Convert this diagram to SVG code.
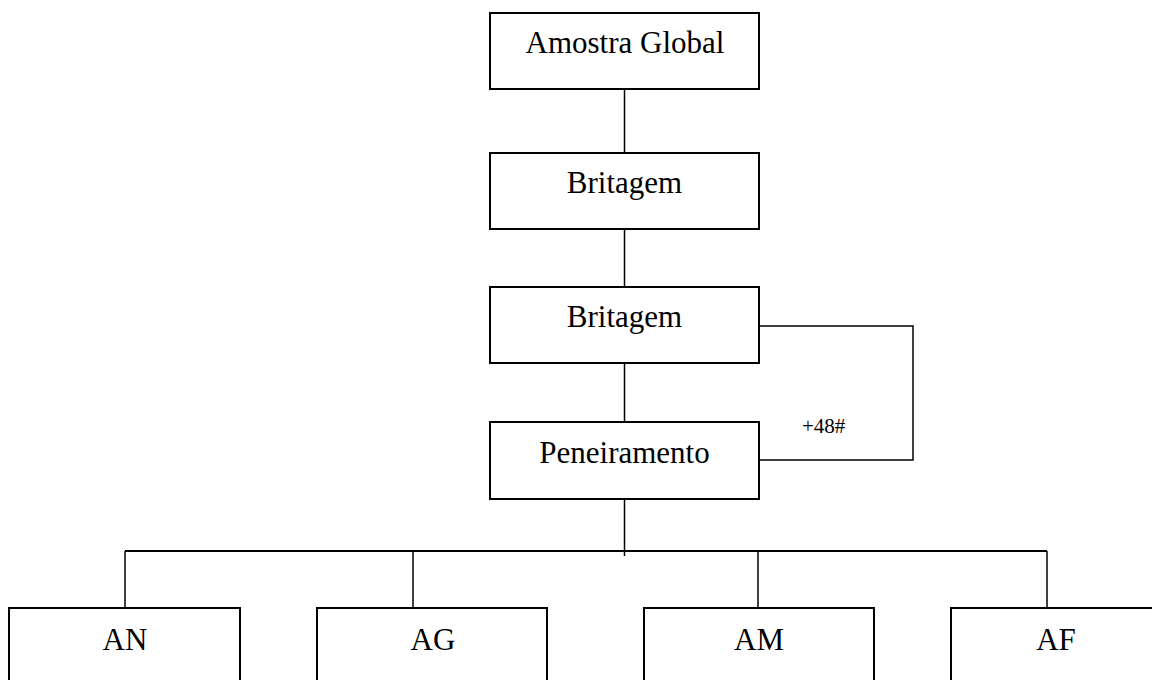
<svg xmlns="http://www.w3.org/2000/svg" width="1152" height="680" viewBox="0 0 1152 680">
  <style>
    .box { fill: #fff; stroke: #000; stroke-width: 2; }
    .lbl { font-family: "Liberation Serif", "Times New Roman", serif; font-size: 31px; fill: #000; text-anchor: middle; }
    .small { font-family: "Liberation Serif", "Times New Roman", serif; font-size: 21px; fill: #000; }
    .conn { fill: none; stroke: #000; stroke-width: 1.5; }
  </style>
  <rect width="1152" height="680" fill="#fff"/>
  <g id="connectors">
    <line class="conn" x1="624.5" y1="89" x2="624.5" y2="153"/>
    <line class="conn" x1="624.5" y1="229" x2="624.5" y2="287"/>
    <line class="conn" x1="624.5" y1="363" x2="624.5" y2="422"/>
    <polyline class="conn" points="759,326 913,326 913,460 759,460"/>
    <line class="conn" x1="624.5" y1="499" x2="624.5" y2="556"/>
    <line class="conn" x1="125" y1="551" x2="1047" y2="551" style="stroke-width:2"/>
    <line class="conn" x1="125" y1="551" x2="125" y2="608"/>
    <line class="conn" x1="413" y1="551" x2="413" y2="608"/>
    <line class="conn" x1="758" y1="551" x2="758" y2="608"/>
    <line class="conn" x1="1047" y1="551" x2="1047" y2="608"/>
    <text class="small" x="802" y="433">+48#</text>
  </g>
  <g id="amostra-global">
    <rect class="box" x="490" y="13" width="269" height="76"/>
    <text class="lbl" x="625" y="53">Amostra Global</text>
  </g>
  <g id="britagem-1">
    <rect class="box" x="490" y="153" width="269" height="76"/>
    <text class="lbl" x="624.5" y="193">Britagem</text>
  </g>
  <g id="britagem-2">
    <rect class="box" x="490" y="287" width="269" height="76"/>
    <text class="lbl" x="624.5" y="327">Britagem</text>
  </g>
  <g id="peneiramento">
    <rect class="box" x="490" y="422" width="269" height="77"/>
    <text class="lbl" x="624.5" y="463">Peneiramento</text>
  </g>
  <g id="an">
    <rect class="box" x="9" y="608" width="231" height="90"/>
    <text class="lbl" x="125" y="650">AN</text>
  </g>
  <g id="ag">
    <rect class="box" x="317" y="608" width="230" height="90"/>
    <text class="lbl" x="433" y="650">AG</text>
  </g>
  <g id="am">
    <rect class="box" x="644" y="608" width="230" height="90"/>
    <text class="lbl" x="759" y="650">AM</text>
  </g>
  <g id="af">
    <rect class="box" x="951" y="608" width="230" height="90"/>
    <text class="lbl" x="1056" y="650">AF</text>
  </g>
</svg>
